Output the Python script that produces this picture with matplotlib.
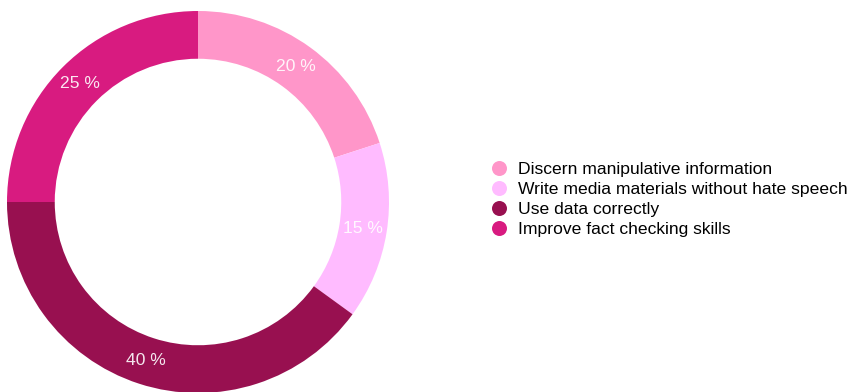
import matplotlib
matplotlib.use("Agg")
import matplotlib.pyplot as plt
from matplotlib.lines import Line2D

plt.rcParams['font.family'] = ['Liberation Sans', 'DejaVu Sans']

categories = ["Discern manipulative information",
              "Write media materials without hate speech",
              "Use data correctly",
              "Improve fact checking skills"]
values = [20, 15, 40, 25]
colors = ["#FF96C9", "#FFBBFF", "#981050", "#D81B80"]

W, H = 852, 392
fig = plt.figure(figsize=(W / 100, H / 100), dpi=100)

cx, cy, R = 198, 202, 191
ax = fig.add_axes([(cx - R) / W, (H - cy - R) / H, 2 * R / W, 2 * R / H])
wedges, texts, autotexts = ax.pie(
    values, colors=colors, startangle=90, counterclock=False, radius=1,
    wedgeprops=dict(width=0.25, edgecolor='none'),
    autopct=lambda p: f"{p:.0f} %", pctdistance=0.875,
    textprops=dict(color='white', fontsize=12.6))
for t in autotexts:
    t.set_alpha(0.9)
ax.set_xlim(-1, 1)
ax.set_ylim(-1, 1)
ax.set_aspect('equal')
ax.axis('off')

handles = [Line2D([], [], marker='o', linestyle='none', markersize=10.8,
                  markerfacecolor=c, markeredgecolor='none') for c in colors]
fig.legend(handles, categories, loc='center left',
           bbox_to_anchor=(492 / W, (H - 199.5) / H), frameon=False,
           fontsize=12.6, handlelength=0.85, handletextpad=0.65,
           labelspacing=0.27, borderpad=0, borderaxespad=0)

fig.savefig("out.png", dpi=100)
